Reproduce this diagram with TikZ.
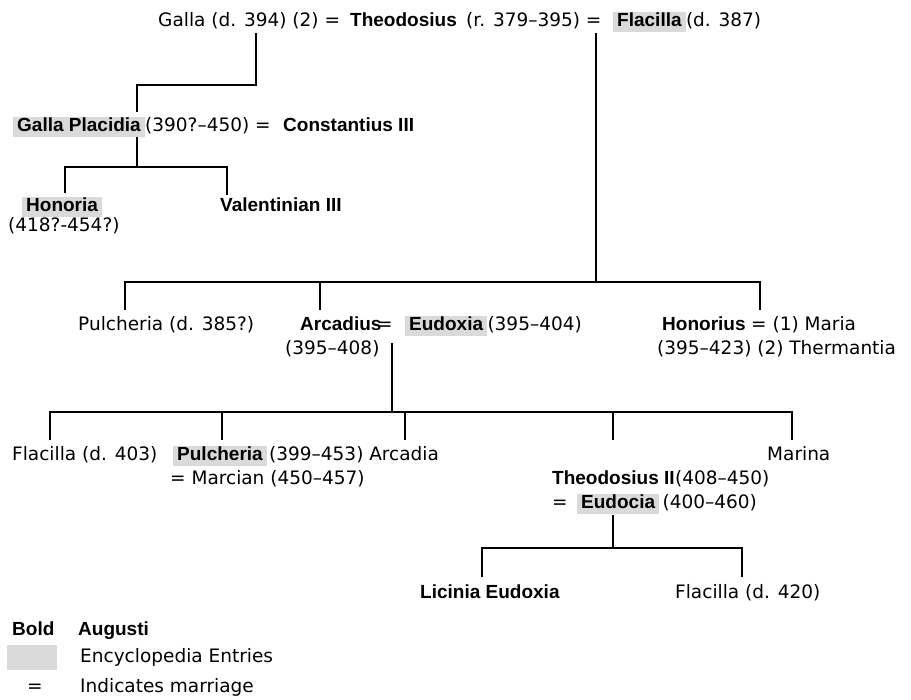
\documentclass[tikz,border=0pt]{standalone}
\usepackage{fontspec}
\setmainfont{DejaVu Sans}
\newfontfamily\libsans{Liberation Sans}
\definecolor{entrygray}{RGB}{218,218,218}

\begin{document}
\begin{tikzpicture}[
  x=1pt, y=-1pt,
  lbl/.style={anchor=base west, inner sep=0pt, font=\fontsize{18.5}{22}\selectfont},
  aug/.style={lbl, font=\libsans\bfseries\fontsize{19}{22}\selectfont},
  entry/.style={aug, fill=entrygray, inner xsep=4pt, inner ysep=1pt, text height=14pt, text depth=4pt},
  link/.style={line width=1.6pt},
]
\useasboundingbox (0,0) rectangle (911,700);

% generation 1
\node[lbl] (galla) at (158,27) {Galla (d. 394) (2) =};
\node[aug] (theo) at (350,27) {Theodosius};
\node[lbl] (theoR) at (466,27) {(r. 379–395) =};
\node[entry] (flac) at (613,27) {Flacilla};
\node[lbl] (flacR) at (flac.base east) {(d. 387)};

% Galla Placidia line
\node[entry] (gp) at (13,132) {Galla Placidia};
\node[lbl] (gpR) at (gp.base east) {(390?–450) =};
\node[aug] (const) at (283,132) {Constantius III};
\node[entry] (honoria) at (22,212) {Honoria};
\node[lbl] (honoriaR) at (8,232) {(418?-454?)};
\node[aug] (valent) at (220,212) {Valentinian III};

% children of Theodosius and Flacilla
\node[lbl] (pulch1) at (78,331) {Pulcheria (d. 385?)};
\node[aug] (arc) at (300,331) {Arcadius};
\node[lbl] (arcEq) at (377,331) {=};
\node[entry] (eudoxia) at (405,331) {Eudoxia};
\node[lbl] (eudoxiaR) at (eudoxia.base east) {(395–404)};
\node[lbl] (arcR) at (285,355) {(395–408)};
\node[aug] (honorius) at (662,331) {Honorius};
\node[lbl] (honoriusR) at (751,331) {= (1) Maria};
\node[lbl] (honoriusR2) at (657,355) {(395–423) (2) Thermantia};

% children of Arcadius and Eudoxia
\node[lbl] (flac2) at (12,461) {Flacilla (d. 403)};
\node[entry] (pulch2) at (173,461) {Pulcheria};
\node[lbl] (pulch2R) at (269,461) {(399–453) Arcadia};
\node[lbl] (marcian) at (170,485) {= Marcian (450–457)};
\node[lbl] (marina) at (767,461) {Marina};
\node[aug] (theo2) at (552,485) {Theodosius II};
\node[lbl] (theo2R) at (theo2.base east) {(408–450)};
\node[lbl] (eudEq) at (552,509) {=};
\node[entry] (eudocia) at (577,509) {Eudocia};
\node[lbl] (eudociaR) at (eudocia.base east) {\,(400–460)};

% children of Theodosius II and Eudocia
\node[aug] (licinia) at (420,598) {Licinia Eudoxia};
\node[lbl] (flac3) at (675,598) {Flacilla (d. 420)};

% key
\node[aug] (keyBold) at (12,635) {Bold};
\node[aug] (keyAug) at (78,635) {Augusti};
\node[fill=entrygray, minimum width=50pt, minimum height=25pt, inner sep=0pt] (keyBox) at (32,657.5) {};
\node[lbl] (keyEnc) at (80,662) {Encyclopedia Entries};
\node[lbl] (keyEq) at (27,692) {=};
\node[lbl] (keyMar) at (80,692) {Indicates marriage};

% junction points of the tree
\coordinate (gallaTop) at (256,33);
\coordinate (gallaBend) at (256,85);
\coordinate (gpTop) at (137,112);
\coordinate (gpBot) at (137,137);
\coordinate (gpBar) at (137,167);
\coordinate (gpBarL) at (65,167);
\coordinate (gpBarR) at (227,167);
\coordinate (honoriaTop) at (65,193);
\coordinate (valentTop) at (227,195);

\coordinate (flacTop) at (596,33);
\coordinate (flacBar) at (596,282);
\coordinate (g2L) at (125,282);
\coordinate (g2M) at (320,282);
\coordinate (g2R) at (760,282);
\coordinate (pulch1Top) at (125,310);
\coordinate (arcTop) at (320,310);
\coordinate (honoriusTop) at (760,310);

\coordinate (arcBot) at (392,343);
\coordinate (arcBar) at (392,412);
\coordinate (g3a) at (50,412);
\coordinate (g3b) at (222,412);
\coordinate (g3c) at (405,412);
\coordinate (g3d) at (613,412);
\coordinate (g3e) at (792,412);
\coordinate (flac2Top) at (50,440);
\coordinate (pulch2Top) at (222,440);
\coordinate (arcadiaTop) at (405,440);
\coordinate (theo2Top) at (613,440);
\coordinate (marinaTop) at (792,440);

\coordinate (theo2Bot) at (613,515);
\coordinate (theo2Bar) at (613,548);
\coordinate (g4L) at (482,548);
\coordinate (g4R) at (742,548);
\coordinate (liciniaTop) at (482,577);
\coordinate (flac3Top) at (742,577);

% connectors
\draw[link] (gallaTop) -- (gallaBend) -| (gpTop);
\draw[link] (gpBot) -- (gpBar);
\draw[link] (honoriaTop) -- (gpBarL) -- (gpBarR) -- (valentTop);

\draw[link] (flacTop) -- (flacBar);
\draw[link] (pulch1Top) -- (g2L) -- (g2R) -- (honoriusTop);
\draw[link] (g2M) -- (arcTop);

\draw[link] (arcBot) -- (arcBar);
\draw[link] (flac2Top) -- (g3a) -- (g3e) -- (marinaTop);
\draw[link] (g3b) -- (pulch2Top);
\draw[link] (g3c) -- (arcadiaTop);
\draw[link] (g3d) -- (theo2Top);

\draw[link] (theo2Bot) -- (theo2Bar);
\draw[link] (liciniaTop) -- (g4L) -- (g4R) -- (flac3Top);
\end{tikzpicture}
\end{document}
